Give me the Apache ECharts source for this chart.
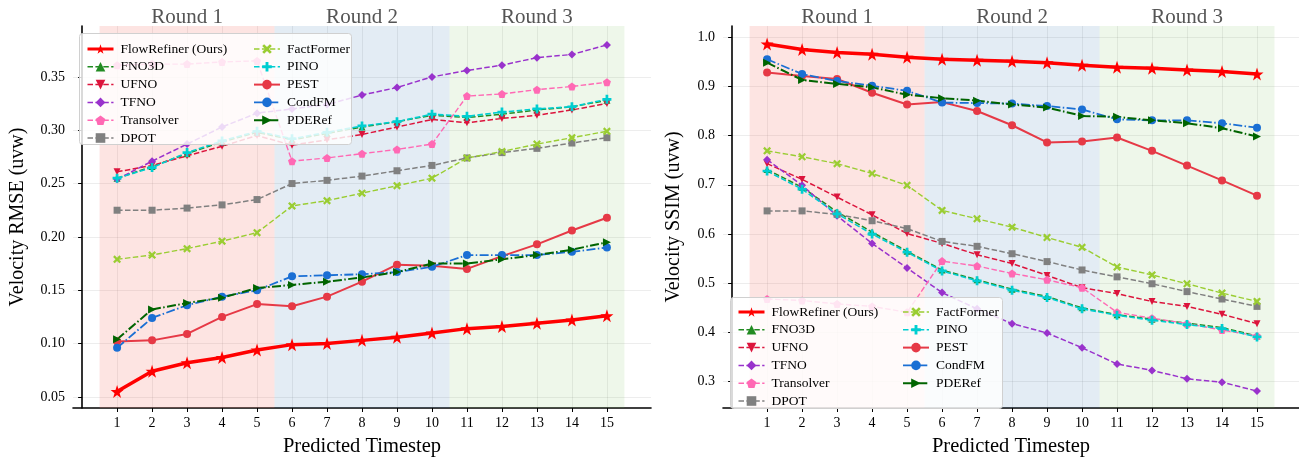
<!DOCTYPE html>
<html>
<head>
<meta charset="utf-8">
<script src="https://cdn.jsdelivr.net/npm/echarts@6/dist/echarts.min.js"></script>
<style>
html,body{margin:0;padding:0;background:#fff;}
#chart{width:1299px;height:462px;}
</style>
</head>
<body>
<div id="chart"></div>
<script>
// timesteps and rounds
var steps = [1, 2, 3, 4, 5, 6, 7, 8, 9, 10, 11, 12, 13, 14, 15];
var roundNames = ['Round 1', 'Round 2', 'Round 3'];
var roundFirst = [1, 6, 11];
var roundLast = [5, 10, 15];
var rmseTicks = [0.05, 0.10, 0.15, 0.20, 0.25, 0.30, 0.35];
var ssimTicks = [0.3, 0.4, 0.5, 0.6, 0.7, 0.8, 0.9, 1.0];

var modelNames = ['FlowRefiner (Ours)', 'FNO3D', 'UFNO', 'TFNO', 'Transolver', 'DPOT',
                  'FactFormer', 'PINO', 'PEST', 'CondFM', 'PDERef'];

// Velocity RMSE (uvw)
var rmseFlowRefiner = [0.055, 0.074, 0.082, 0.087, 0.094, 0.099, 0.100, 0.103, 0.106, 0.110, 0.114, 0.116, 0.119, 0.122, 0.126];
var rmseFNO3D       = [0.255, 0.266, 0.278, 0.289, 0.298, 0.291, 0.297, 0.303, 0.308, 0.314, 0.312, 0.315, 0.319, 0.322, 0.328];
var rmseUFNO        = [0.261, 0.267, 0.276, 0.285, 0.295, 0.286, 0.291, 0.296, 0.303, 0.310, 0.307, 0.311, 0.314, 0.319, 0.325];
var rmseTFNO        = [0.254, 0.271, 0.287, 0.303, 0.316, 0.320, 0.324, 0.333, 0.340, 0.350, 0.356, 0.361, 0.368, 0.371, 0.380];
var rmseTransolver  = [0.361, 0.362, 0.362, 0.364, 0.365, 0.271, 0.274, 0.278, 0.282, 0.287, 0.332, 0.334, 0.338, 0.341, 0.345];
var rmseDPOT        = [0.225, 0.225, 0.227, 0.230, 0.235, 0.250, 0.253, 0.257, 0.262, 0.267, 0.274, 0.279, 0.283, 0.288, 0.293];
var rmseFactFormer  = [0.179, 0.183, 0.189, 0.196, 0.204, 0.229, 0.234, 0.241, 0.248, 0.255, 0.274, 0.280, 0.287, 0.293, 0.299];
var rmsePINO        = [0.255, 0.265, 0.279, 0.290, 0.299, 0.292, 0.298, 0.304, 0.308, 0.315, 0.313, 0.317, 0.320, 0.322, 0.329];
var rmsePEST        = [0.102, 0.103, 0.109, 0.125, 0.137, 0.135, 0.144, 0.158, 0.174, 0.173, 0.170, 0.182, 0.193, 0.206, 0.218];
var rmseCondFM      = [0.096, 0.124, 0.136, 0.144, 0.150, 0.163, 0.164, 0.165, 0.167, 0.172, 0.183, 0.183, 0.183, 0.186, 0.190];
var rmsePDERef      = [0.104, 0.132, 0.138, 0.143, 0.152, 0.155, 0.158, 0.162, 0.167, 0.175, 0.175, 0.179, 0.183, 0.188, 0.195];

// Velocity SSIM (uvw)
var ssimFlowRefiner = [0.986, 0.975, 0.969, 0.965, 0.959, 0.955, 0.953, 0.951, 0.948, 0.943, 0.939, 0.937, 0.933, 0.930, 0.925];
var ssimFNO3D       = [0.731, 0.695, 0.645, 0.604, 0.565, 0.527, 0.507, 0.488, 0.473, 0.450, 0.436, 0.427, 0.419, 0.410, 0.393];
var ssimUFNO        = [0.743, 0.711, 0.675, 0.639, 0.601, 0.581, 0.558, 0.540, 0.516, 0.491, 0.479, 0.463, 0.453, 0.437, 0.418];
var ssimTFNO        = [0.751, 0.699, 0.637, 0.581, 0.531, 0.481, 0.448, 0.418, 0.399, 0.369, 0.336, 0.323, 0.306, 0.299, 0.281];
var ssimTransolver  = [0.468, 0.465, 0.458, 0.453, 0.441, 0.545, 0.535, 0.520, 0.507, 0.491, 0.441, 0.429, 0.418, 0.405, 0.393];
var ssimDPOT        = [0.647, 0.647, 0.640, 0.627, 0.611, 0.585, 0.575, 0.560, 0.544, 0.527, 0.513, 0.499, 0.483, 0.468, 0.453];
var ssimFactFormer  = [0.769, 0.757, 0.743, 0.723, 0.699, 0.648, 0.631, 0.614, 0.593, 0.573, 0.533, 0.517, 0.499, 0.480, 0.463];
var ssimPINO        = [0.728, 0.691, 0.641, 0.600, 0.563, 0.525, 0.505, 0.486, 0.471, 0.448, 0.435, 0.425, 0.416, 0.408, 0.391];
var ssimPEST        = [0.928, 0.921, 0.915, 0.887, 0.863, 0.868, 0.850, 0.821, 0.786, 0.788, 0.796, 0.769, 0.739, 0.709, 0.678];
var ssimCondFM      = [0.955, 0.925, 0.911, 0.901, 0.891, 0.867, 0.866, 0.865, 0.860, 0.853, 0.833, 0.831, 0.831, 0.825, 0.816];
var ssimPDERef      = [0.948, 0.913, 0.905, 0.898, 0.883, 0.876, 0.871, 0.863, 0.857, 0.840, 0.838, 0.831, 0.825, 0.815, 0.798];

var rmseValues = [rmseFlowRefiner, rmseFNO3D, rmseUFNO, rmseTFNO, rmseTransolver, rmseDPOT,
                  rmseFactFormer, rmsePINO, rmsePEST, rmseCondFM, rmsePDERef];
var ssimValues = [ssimFlowRefiner, ssimFNO3D, ssimUFNO, ssimTFNO, ssimTransolver, ssimDPOT,
                  ssimFactFormer, ssimPINO, ssimPEST, ssimCondFM, ssimPDERef];

// marker shapes
var STAR = 'path://M50,0 L61.8,35.1 L98.1,35.1 L68.8,56.7 L79.4,91 L50,70 L20.6,91 L31.2,56.7 L1.9,35.1 L38.2,35.1 Z';
var TRI_DOWN = 'path://M0,0 L10,0 L5,9 Z';
var TRI_RIGHT = 'path://M0,0 L9,5 L0,10 Z';
var PLUS = 'path://M3.5,0 H6.5 V3.5 H10 V6.5 H6.5 V10 H3.5 V6.5 H0 V3.5 H3.5 Z';
var XMARK = 'path://M0,2 L2,0 L5,3 L8,0 L10,2 L7,5 L10,8 L8,10 L5,7 L2,10 L0,8 L3,5 Z';
var PENT = 'path://M5,0 L10,3.6 L8.1,9.5 L1.9,9.5 L0,3.6 Z';

var DASH = [5.5, 2.4];
var DASHDOT = [9, 2.4, 1.5, 2.4];
var looks = {
    'FlowRefiner (Ours)': {color: '#ff0000', width: 3.5, dash: 'solid', symbol: STAR, size: 13},
    'FNO3D':      {color: '#228b22', width: 1.5, dash: DASH, symbol: 'triangle', size: 7},
    'UFNO':       {color: '#dc143c', width: 1.5, dash: DASH, symbol: TRI_DOWN, size: 7},
    'TFNO':       {color: '#9932cc', width: 1.5, dash: DASH, symbol: 'diamond', size: 8},
    'Transolver': {color: '#ff69b4', width: 1.4, dash: DASH, symbol: PENT, size: 8},
    'DPOT':       {color: '#808080', width: 1.5, dash: DASH, symbol: 'rect', size: 7},
    'FactFormer': {color: '#9acd32', width: 1.4, dash: DASH, symbol: XMARK, size: 8},
    'PINO':       {color: '#00ced1', width: 1.6, dash: DASH, symbol: PLUS, size: 9},
    'PEST':       {color: '#e63946', width: 2, dash: 'solid', symbol: 'circle', size: 8},
    'CondFM':     {color: '#1a6fd4', width: 1.8, dash: DASHDOT, symbol: 'circle', size: 8},
    'PDERef':     {color: '#006400', width: 2, dash: DASHDOT, symbol: TRI_RIGHT, size: 8}
};
var shadeColors = ['rgba(245,120,110,0.2)', 'rgba(70,130,180,0.15)', 'rgba(120,190,90,0.13)'];

var FONT = 'Liberation Serif';
var chart = echarts.init(document.getElementById('chart'));

var grids = [
    {left: 73, top: 26, width: 578, height: 388},
    {left: 723, top: 26, width: 576, height: 388}
];
var xMax = [16.26, 16.2];
var yMin = [0.0396, 0.2466];
var yMax = [0.3977, 1.0226];
var yTicks = [rmseTicks, ssimTicks];
var yDigits = [2, 1];
var yNames = ['Velocity RMSE (uvw)', 'Velocity SSIM (uvw)'];
var yNameGap = [45, 39];
var panelValues = [rmseValues, ssimValues];

var xAxes = [], yAxes = [], series = [];
for (var p = 0; p < 2; p++) {
    xAxes.push({
        gridIndex: p, type: 'value', min: -0.26, max: xMax[p],
        name: 'Predicted Timestep', nameLocation: 'middle', nameGap: 28,
        nameTextStyle: {fontFamily: FONT, fontSize: 20.5, color: '#000', verticalAlign: 'top'},
        axisLine: {lineStyle: {color: '#000', width: 1.6}},
        axisTick: {customValues: steps, length: 4, lineStyle: {color: '#000', width: 1}},
        axisLabel: {customValues: steps, fontFamily: FONT, fontSize: 14, color: '#000', margin: 8},
        splitLine: {show: true, lineStyle: {color: 'rgba(0,0,0,0.07)', width: 1}}
    });
    (function (d) {
        yAxes.push({
            gridIndex: p, type: 'value', min: yMin[p], max: yMax[p],
            name: yNames[p], nameLocation: 'middle', nameGap: yNameGap[p],
            nameTextStyle: {fontFamily: FONT, fontSize: 20, color: '#000'},
            axisLine: {show: true, lineStyle: {color: '#000', width: 1.6}},
            axisTick: {show: true, customValues: yTicks[p], length: 4, lineStyle: {color: '#000', width: 1}},
            axisLabel: {customValues: yTicks[p], fontFamily: FONT, fontSize: 14, color: '#000', margin: 8,
                        formatter: function (v) { return v.toFixed(d); }},
            splitLine: {show: true, lineStyle: {color: 'rgba(0,0,0,0.07)', width: 1}}
        });
    })(yDigits[p]);

    // round shading
    var areas = [];
    for (var r = 0; r < roundNames.length; r++) {
        areas.push([
            {name: roundNames[r], xAxis: roundFirst[r] - 0.5, itemStyle: {color: shadeColors[r]}},
            {xAxis: roundLast[r] + 0.5}
        ]);
    }
    series.push({
        type: 'line', xAxisIndex: p, yAxisIndex: p, data: [], silent: true, z: 1,
        markArea: {
            silent: true,
            label: {show: true, position: 'top', distance: -2, fontFamily: FONT, fontSize: 21, color: '#555'},
            data: areas
        }
    });

    for (var m = 0; m < modelNames.length; m++) {
        var name = modelNames[m];
        var lk = looks[name];
        var vals = panelValues[p][m];
        var pts = [];
        for (var i = 0; i < steps.length; i++) pts.push([steps[i], vals[i]]);
        series.push({
            name: name, type: 'line', xAxisIndex: p, yAxisIndex: p,
            data: pts, z: m === 0 ? 4 : 3,
            symbol: lk.symbol, symbolSize: lk.size, showSymbol: true,
            lineStyle: {color: lk.color, width: lk.width, type: lk.dash},
            itemStyle: {color: lk.color},
            animation: false
        });
    }
}

function legendAt(left, top, names) {
    var items = names.map(function (n) {
        var lk = looks[n];
        return {
            name: n,
            lineStyle: {color: lk.color, width: Math.min(lk.width, 3), type: lk.dash},
            itemStyle: {color: lk.color}
        };
    });
    return {
        orient: 'vertical', left: left, top: top, data: items, z: 60,
        itemWidth: 26, itemHeight: 12, itemGap: 3.8,
        textStyle: {fontFamily: FONT, fontSize: 13.5, color: '#000', padding: [0, 0, 0, 2]},
        selectedMode: false
    };
}
var col1 = modelNames.slice(0, 6);
var col2 = modelNames.slice(6);

chart.setOption({
    animation: false,
    backgroundColor: '#fff',
    grid: grids,
    xAxis: xAxes,
    yAxis: yAxes,
    legend: [
        legendAt(81, 37, col1), legendAt(248, 37, col2),
        legendAt(732, 300, col1), legendAt(897, 300, col2)
    ],
    graphic: [
        {type: 'rect', left: 79, top: 33, z: 50, shape: {width: 272, height: 111, r: 3},
         style: {fill: 'rgba(255,255,255,0.82)', stroke: '#d0d0d0', lineWidth: 1}},
        {type: 'rect', left: 730, top: 297, z: 50, shape: {width: 272, height: 111, r: 3},
         style: {fill: 'rgba(255,255,255,0.82)', stroke: '#d0d0d0', lineWidth: 1}}
    ],
    series: series
});
</script>
</body>
</html>
